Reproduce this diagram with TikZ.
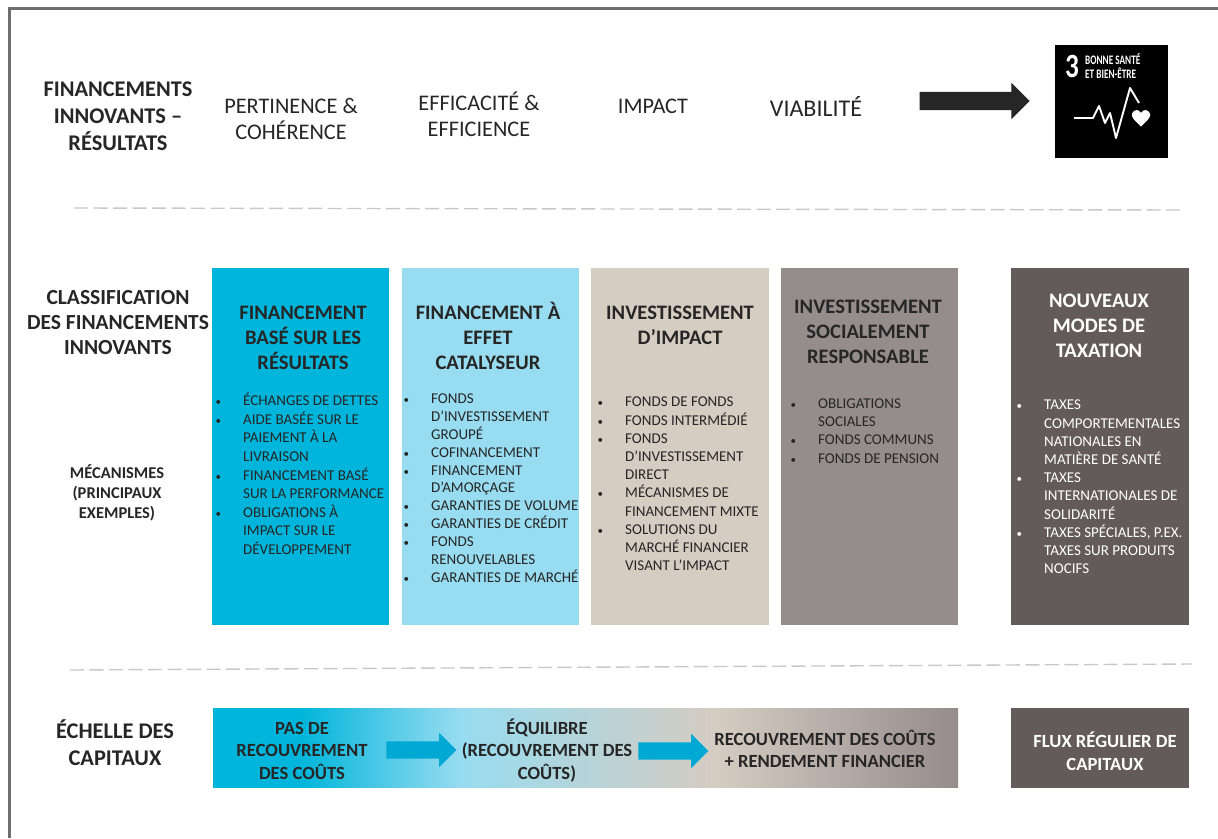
\documentclass[tikz,border=0pt]{standalone}
\usepackage{graphicx}
\usepackage{fontspec}
\setmainfont{Carlito}
\usetikzlibrary{shapes.arrows,shapes.geometric}
\definecolor{cyanbox}{HTML}{00B5DB}
\definecolor{skybox}{HTML}{97DCF0}
\definecolor{sandbox}{HTML}{D5CCC2}
\definecolor{greybox}{HTML}{958C8C}
\definecolor{darkbox}{HTML}{635B5B}
\definecolor{dashgrey}{HTML}{C8C8C8}
\definecolor{framegrey}{HTML}{6E6E6E}
\definecolor{arrowblue}{HTML}{00A8D4}
\pgfdeclarehorizontalshading{capitalshade}{100bp}{color(0bp)=(cyanbox); color(30.8bp)=(cyanbox); color(41.6bp)=(skybox); color(58.7bp)=(sandbox); color(75bp)=(greybox); color(100bp)=(greybox)}
\newcommand{\bul}{\llap{{\fontsize{11}{11}\selectfont•}\hspace{22pt}}}
\tikzset{
  rowlabel/.style={font=\fontsize{22.4}{27}\selectfont\bfseries, align=center, text=black!85},
  classlabel/.style={font=\fontsize{21.5}{25}\selectfont\bfseries, align=center, text=black!85},
  critlabel/.style={font=\fontsize{22.3}{26}\selectfont, align=center, text=black!85},
  colbox/.style={minimum width=177, minimum height=357, anchor=north west, inner sep=0pt},
  coltitle/.style={font=\fontsize{20.6}{25}\selectfont\bfseries, align=center, text=black!85},
  collist/.style={font=\fontsize{15}{18.2}\selectfont, align=left, anchor=north west, inner sep=0pt, text=black!85},
  sepline/.style={dashgrey, line width=1.4pt, dash pattern=on 14pt off 5.5pt},
  scaletext/.style={font=\fontsize{18.6}{22.5}\selectfont\bfseries, align=center, text=black!85},
  bluearrow/.style={single arrow, fill=arrowblue, minimum height=70, minimum width=34,
    single arrow head extend=8.5pt, single arrow tip angle=90, inner xsep=0pt, inner ysep=8.5pt}
}
\begin{document}
\begin{tikzpicture}[x=1pt, y=-1pt]
  \useasboundingbox (0,0) rectangle (1218,838);

  % Page frame
  \draw[framegrey, line width=2.6pt] (9.5,838) -- (9.5,8.5) -- (1218,8.5);

  % Top row
  \node[rowlabel] (toplabel) at (118,116) {FINANCEMENTS\\INNOVANTS --\\RÉSULTATS};
  \node[critlabel] (pertinence) at (291,118.5) {PERTINENCE \&\\COHÉRENCE};
  \node[critlabel] (efficacite) at (479,114) {EFFICACITÉ \&\\EFFICIENCE};
  \node[critlabel] (impact) at (653,106.5) {IMPACT};
  \node[critlabel, font=\fontsize{24}{26}\selectfont] (viabilite) at (816,106) {VIABILITÉ};
  \node[single arrow, fill=black!85, minimum height=110, minimum width=36, inner xsep=0pt, inner ysep=9pt,
    single arrow head extend=9pt, single arrow tip angle=90] (toparrow) at (970,101) {};

  % SDG tile
  \node[fill=black, minimum width=113, minimum height=113, inner sep=0pt] (sdg) at (1111,101) {};
  \node[text=white, font=\fontsize{34}{34}\selectfont\bfseries, inner sep=0pt] (sdgnum) at (1072,66) {\scalebox{.8}[1]{3}};
  \node[text=white, font=\fontsize{13}{14}\selectfont\bfseries, align=left, inner sep=0pt, anchor=west] (sdgtext) at (1085,66) {\scalebox{.71}[1]{BONNE SANTÉ}\\\scalebox{.71}[1]{ET BIEN-ÊTRE}};
  \draw[white, line width=1.9pt, line join=round] (1074,118) -- (1093,118) -- (1099,106) -- (1105,123) -- (1110,113) -- (1116,138) -- (1130,88) -- (1139,103);
  \fill[white] (1141,126.5) .. controls (1134,120) and (1131,117) .. (1132,113.5) .. controls (1134,109) and (1139,109) .. (1141,113) .. controls (1143,109) and (1148,109) .. (1150,113.5) .. controls (1151,117) and (1148,120) .. (1141,126.5) -- cycle;

  % Dashed separators
  \draw[sepline] (74,208) -- (1183,210);
  \draw[sepline] (70,670) -- (1192,664);

  % Row labels
  \node[classlabel] (classlabel) at (118,322.5) {CLASSIFICATION\\DES FINANCEMENTS\\INNOVANTS};
  \node[font=\fontsize{16.5}{20}\selectfont\bfseries, align=center, text=black!85] (mecalabel) at (117,492.5) {MÉCANISMES\\(PRINCIPAUX\\EXEMPLES)};
  \node[rowlabel] (scalelabel) at (115,743) {ÉCHELLE DES\\CAPITAUX};

  % Column boxes
  \node[colbox, fill=cyanbox] (resultbox) at (212,268) {};
  \node[colbox, fill=skybox] (catalbox) at (402,268) {};
  \node[colbox, fill=sandbox, minimum width=178] (impactbox) at (591,268) {};
  \node[colbox, fill=greybox] (socialbox) at (781,268) {};
  \node[colbox, fill=darkbox, minimum width=178] (taxbox) at (1011,268) {};

  % Column titles
  \node[coltitle] (resulttitle) at (303,338) {FINANCEMENT\\BASÉ SUR LES\\RÉSULTATS};
  \node[coltitle] (cataltitle) at (488,336) {FINANCEMENT À\\EFFET\\CATALYSEUR};
  \node[coltitle] (impacttitle) at (680,325.5) {INVESTISSEMENT\\D’IMPACT};
  \node[coltitle] (socialtitle) at (868,331.5) {INVESTISSEMENT\\SOCIALEMENT\\RESPONSABLE};
  \node[coltitle, text=white] (taxtitle) at (1099,325.5) {NOUVEAUX\\MODES DE\\TAXATION};

  % Column lists
  \node[collist, font=\fontsize{15}{18.6}\selectfont] (resultlist) at (243,393) {\bul ÉCHANGES DE DETTES\\\bul AIDE BASÉE SUR LE\\PAIEMENT À LA\\LIVRAISON\\\bul FINANCEMENT BASÉ\\SUR LA PERFORMANCE\\\bul OBLIGATIONS À\\IMPACT SUR LE\\DÉVELOPPEMENT};
  \node[collist, font=\fontsize{15}{17.9}\selectfont] (catallist) at (431,393.5) {\bul FONDS\\D’INVESTISSEMENT\\GROUPÉ\\\bul COFINANCEMENT\\\bul FINANCEMENT\\D’AMORÇAGE\\\bul GARANTIES DE VOLUME\\\bul GARANTIES DE CRÉDIT\\\bul FONDS\\RENOUVELABLES\\\bul GARANTIES DE MARCHÉ};
  \node[collist] (impactlist) at (625,397) {\bul FONDS DE FONDS\\\bul FONDS INTERMÉDIÉ\\\bul FONDS\\D’INVESTISSEMENT\\DIRECT\\\bul MÉCANISMES DE\\FINANCEMENT MIXTE\\\bul SOLUTIONS DU\\MARCHÉ FINANCIER\\VISANT L’IMPACT};
  \node[collist] (sociallist) at (818,398.5) {\bul OBLIGATIONS\\SOCIALES\\\bul FONDS COMMUNS\\\bul FONDS DE PENSION};
  \node[collist, text=white] (taxlist) at (1044,400) {\bul TAXES\\COMPORTEMENTALES\\NATIONALES EN\\MATIÈRE DE SANTÉ\\\bul TAXES\\INTERNATIONALES DE\\SOLIDARITÉ\\\bul TAXES SPÉCIALES, P.EX.\\TAXES SUR PRODUITS\\NOCIFS};

  % Capital scale
  \shade[shading=capitalshade] (213,708) rectangle (958,787);
  \node[scaletext] (nocost) at (302,750.5) {PAS DE\\RECOUVREMENT\\DES COÛTS};
  \node[scaletext] (balance) at (547,750.5) {ÉQUILIBRE\\(RECOUVREMENT DES\\COÛTS)};
  \node[scaletext] (cost) at (825,749) {RECOUVREMENT DES COÛTS\\+ RENDEMENT FINANCIER};
  \node[bluearrow] (arrowa) at (417,750) {};
  \node[bluearrow] (arrowb) at (669,751) {};
  \node[fill=darkbox, minimum width=178, minimum height=80, inner sep=0pt] (flowbox) at (1100,747.5) {};
  \node[scaletext, text=white] (flowtext) at (1105,751) {FLUX RÉGULIER DE\\CAPITAUX};
\end{tikzpicture}
\end{document}
